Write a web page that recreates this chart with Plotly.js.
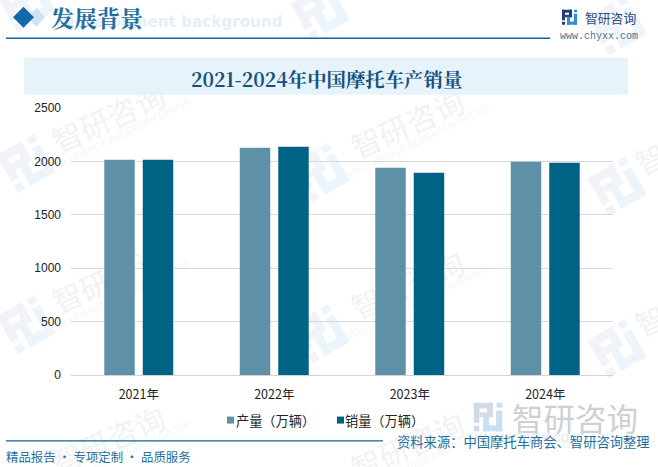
<!DOCTYPE html>
<html><head><meta charset="utf-8">
<script src="https://cdn.plot.ly/plotly-3.0.1.min.js"></script>
<style>html,body{margin:0;padding:0;background:#fff}#c{width:658px;height:467px}</style></head>
<body><div id="c"></div>
<script>
const years = ['2021年','2022年','2023年','2024年'];
const production = [2016,2128,1941,1997];
const sales = [2016,2138,1894,1988];
const seriesNames = ['产量（万辆）','销量（万辆）'];
const seriesColors = ['#5e91a8','#006285'];
const yTicks = [0,500,1000,1500,2000,2500];
const W=658,H=467,L=71,R=613,T=108.3,B=375.4;
const px=x=>(x-L)/(R-L), py=y=>(B-y)/(B-T);
const sans='"Noto Sans CJK SC","Liberation Sans",sans-serif';
const serif='"Noto Serif CJK SC","Liberation Serif","Noto Sans CJK SC",serif';
function rect(x0,y0,x1,y1,color,layer){return {type:'rect',xref:'paper',yref:'paper',x0:px(x0),x1:px(x1),y0:py(y0),y1:py(y1),fillcolor:color,line:{width:0},layer:layer||'below'};}
function line(x0,x1,y,color,w){return {type:'line',xref:'paper',yref:'paper',x0:px(x0),x1:px(x1),y0:py(y),y1:py(y),line:{color:color,width:w},layer:'below'};}
function poly(pts,color){return {type:'path',xref:'paper',yref:'paper',path:'M'+pts.map(p=>px(p[0]).toFixed(4)+','+py(p[1]).toFixed(4)).join('L')+'Z',fillcolor:color,line:{width:0},layer:'below'};}
function txt(x,y,s,size,color,opts){const o=opts||{};const fam=o.family||sans;delete o.family;return Object.assign({xref:'paper',yref:'paper',x:px(x),y:py(y),text:s,showarrow:false,font:{size:size,color:color,family:fam},xanchor:'left',yanchor:'middle',borderpad:0,borderwidth:0},o);}
// watermark text sits in a shape label so that it stays below the bars
function under(x,y,s,size,color,deg,fam){
  return {type:'rect',xref:'paper',yref:'paper',x0:px(x-1),x1:px(x+1),y0:py(y+1),y1:py(y-1),fillcolor:'rgba(0,0,0,0)',line:{width:0},layer:'below',
    label:{text:s,textangle:deg,textposition:'middle center',xanchor:'center',yanchor:'middle',padding:0,font:{size:size,color:color,family:fam||sans}}};
}
// the company's logo mark, built from blocks on a 15-unit grid, rotatable
const logoBlocks=[[0,0,10,3,0],[7,0,10,7.5,0],[3,5,10,7.5,0],[0,0,3,10.5,0],[0,12,3,15,0],
                  [12,0,15,2.5,1],[11.8,4,15,15,1],[5,11.8,15,15,1],[5,7,8,15,1]];
function logo(cx,cy,scale,deg,c0,c1){
  const a=deg*Math.PI/180,cs=Math.cos(a),sn=Math.sin(a);
  const tr=(u,v)=>{const dx=(u-7.5)*scale,dy=(v-7.5)*scale;return [cx+dx*cs-dy*sn,cy+dx*sn+dy*cs];};
  return logoBlocks.map(b=>poly([tr(b[0],b[1]),tr(b[2],b[1]),tr(b[2],b[3]),tr(b[0],b[3])],b[4]?c1:c0));
}
const wmLogos=[[26,3],[26,164],[26,325],[320,12],[320,173],[320,334],[617,26],[617,187],[617,349]];
const wmTexts=[[110,122],[110,283],[110,444],[409,128],[409,289],[409,450]];
const shapes=[];
wmLogos.forEach(p=>shapes.push(...logo(p[0],p[1],2.9,-30,'#f1f3f8','#ecf5fb')));
wmTexts.forEach(p=>{
 shapes.push(under(p[0],p[1],'智研咨询',30,'#f1f2f4',-24));
 shapes.push(under(p[0]+7,p[1]+14,'INTELLIGENCE RESEARCH GROUP',9.5,'#f4f5f6',-26,'"Liberation Sans",sans-serif'));
});
shapes.push(
 under(652,163,'智',30,'#f1f2f4',-24),
 under(652,325,'智',30,'#f1f2f4',-24),
 rect(24,58,628,95,'#e6f3fb'),
 poly([[28,17.5],[36.5,8],[45,17.5],[36.5,27]],'#cfe2ef'),
 poly([[13,17.5],[23.5,7],[34,17.5],[23.5,28]],'#1369a8'),
 line(6,550,38.5,'#0f6498',1.3),
 line(6,383,441.3,'#0f6498',1.2),
 ...logo(569.5,17.5,1,0,'#253d7a','#2a93d5'),
 ...logo(488,417.5,1.9,0,'#d3dae6','#c6e0f2'),
 rect(227,417,234,424,seriesColors[0]),
 rect(337,417,344,424,seriesColors[1])
);
const annotations=[
 txt(62,22.5,'<b>Development background</b>',15.2,'#e3f0f9',{family:'"DejaVu Sans",sans-serif'}),
 txt(51,17.5,'<b>发展背景</b>',23,'#1f6f9f',{family:serif}),
 txt(326,79,'<b>2021-2024年中国摩托车产销量</b>',19.4,'#15527f',{xanchor:'center',family:serif}),
 txt(585,17.5,'智研咨询',12.8,'#2b4a85'),
 txt(560,37,'www.chyxx.com',10,'#4c7396',{family:'"Liberation Mono",monospace'}),
 txt(512,417,'智研咨询',31.5,'#cdd0d5'),
 txt(474,437,'www.chyxx.com',15,'#e6e8eb',{family:'"Liberation Sans",sans-serif'}),
 txt(6,457,'精品报告 · 专项定制 · 品质服务',12.4,'#1f6f9f'),
 txt(397,441.5,'资料来源：中国摩托车商会、智研咨询整理',13.3,'#1f6f9f'),
 txt(236,421,seriesNames[0],13.2,'#222'),
 txt(345,421,seriesNames[1],13.2,'#222')
];
const data=[
 {type:'bar',name:seriesNames[0],x:years,y:production,marker:{color:seriesColors[0]}},
 {type:'bar',name:seriesNames[1],x:years,y:sales,marker:{color:seriesColors[1]}}
];
const layout={
 width:W,height:H,paper_bgcolor:'#fff',plot_bgcolor:'rgba(0,0,0,0)',
 margin:{l:L,r:W-R,t:T,b:H-B,pad:0},
 barmode:'group',bargap:0.432,bargroupgap:0.208,
 font:{family:sans,color:'#222'},
 xaxis:{type:'category',showgrid:false,zeroline:false,showline:true,linecolor:'#d4d4d4',linewidth:1,ticks:'',ticklen:0,ticklabelstandoff:8,tickfont:{size:12.5,color:'#222',family:sans}},
 yaxis:{range:[0,2500],tickvals:yTicks,ticktext:yTicks.map(String),gridcolor:'#d9d9d9',gridwidth:1,zeroline:false,showline:false,ticks:'',ticklen:0,ticklabelstandoff:9,tickfont:{size:12,color:'#222',family:'"Liberation Sans",sans-serif'}},
 showlegend:false,
 shapes,annotations
};
Plotly.newPlot('c',data,layout,{displayModeBar:false,staticPlot:true});
</script></body></html>
